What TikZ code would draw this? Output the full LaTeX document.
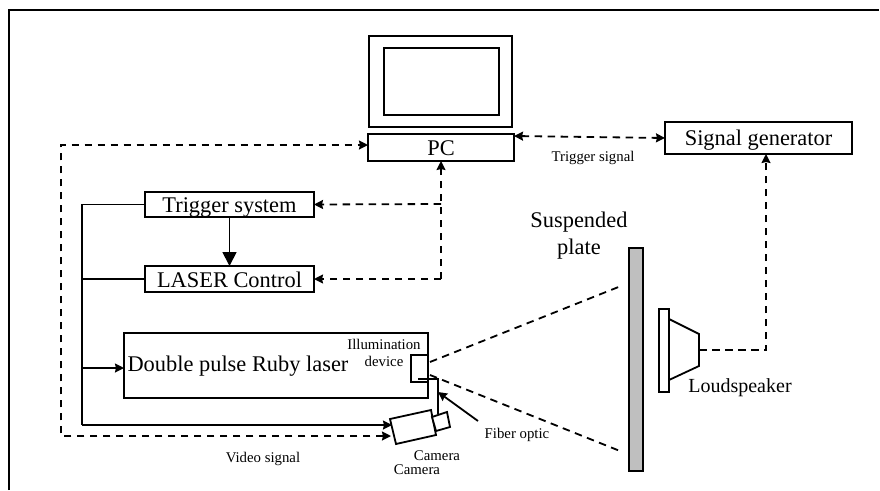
\documentclass[tikz,border=0pt]{standalone}
\usepackage{fontspec}
\setmainfont{Liberation Serif}
\usetikzlibrary{arrows.meta}
\tikzset{
	box/.style={draw, line width=1.8pt, inner sep=0pt, outer sep=0pt, fill=white},
	bigtext/.style={font=\fontsize{22.4}{27}\selectfont, inner sep=0pt, align=center},
	boxtext/.style={bigtext, text height=16.5pt, text depth=0pt},
	smalltext/.style={font=\fontsize{14.8}{17}\selectfont, inner sep=0pt, align=center},
	solidline/.style={line width=1.8pt},
	dashline/.style={line width=1.8pt, dash pattern=on 7.5pt off 5.5pt},
	smallhead/.style={-{Stealth[length=9pt,width=9pt,inset=1pt]}},
	bothhead/.style={{Stealth[length=9pt,width=9pt,inset=1pt]}-{Stealth[length=9pt,width=9pt,inset=1pt]}}
}
\begin{document}
\begin{tikzpicture}[x=1pt, y=-1pt, line join=miter]
	% Fix the page to the size of the picture
	\useasboundingbox (0,0) rectangle (880,490);

	% Define key coordinates
	\coordinate (FL) at (9,490);       % Bottom end of the frame
	\coordinate (FC) at (9,10);        % Corner of the frame
	\coordinate (FR) at (879,10);      % Right end of the frame
	\coordinate (BUS) at (82,425);     % Lower corner of the solid bus
	\coordinate (LI) at (124,368);     % Bus input of the laser
	\coordinate (VID) at (61,436);     % Lower corner of the video line
	\coordinate (VIDT) at (61,145);    % Upper corner of the video line
	\coordinate (PCV) at (368,145);    % Video input of the PC
	\coordinate (PCS) at (514,136);    % Signal output of the PC
	\coordinate (SGP) at (665,138);    % PC input of the generator
	\coordinate (SGS) at (766,154);    % Speaker input of the generator
	\coordinate (TJ) at (441,204);     % Junction towards the trigger system
	\coordinate (LJ) at (441,279);     % Junction towards the laser control
	\coordinate (SPK) at (766,350);    % Corner of the speaker line
	\coordinate (CS) at (392,425);     % Solid input of the camera
	\coordinate (CD) at (391,436);     % Dashed input of the camera
	\coordinate (FA) at (418,379);     % Fiber start in the illumination device
	\coordinate (FB) at (438,379);     % Fiber corner
	\coordinate (FC2) at (438,414);    % Fiber end on the camera
	\coordinate (FT) at (438,392);     % Tip of the fiber arrow
	\coordinate (BU) at (430,362);     % Upper beam start
	\coordinate (BD) at (430,375);     % Lower beam start
	\coordinate (PU) at (621,286);     % Upper beam end
	\coordinate (PD) at (620,451);     % Lower beam end

	% Draw the frame
	\draw[line width=2pt] (FL) -- (FC) -- (FR);

	% Draw the PC and its monitor
	\node[box, minimum width=143pt, minimum height=91pt] (monitor) at (440.5,81.5) {};
	\node[box, minimum width=115pt, minimum height=67pt] (screen) at (441.5,81.5) {};
	\node[box, boxtext, minimum width=146pt, minimum height=27pt] (pc) at (441,147.5) {PC};

	% Draw the other boxes
	\node[box, boxtext, text height=14pt, minimum width=187pt, minimum height=32pt] (siggen) at (758.5,138) {Signal generator};
	\node[box, boxtext, minimum width=169pt, minimum height=25pt] (trigger) at (229.5,204.5) {Trigger system};
	\node[box, boxtext, minimum width=169pt, minimum height=26pt] (laserctl) at (229.5,279) {LASER Control};
	\node[box, minimum width=304pt, minimum height=65pt] (laser) at (276,365.5) {};
	\node[box, minimum width=17pt, minimum height=27pt] (illum) at (419.5,368.5) {};

	% Draw the plate and the loudspeaker
	\node[box, fill=black!25, minimum width=14pt, minimum height=223pt] (plate) at (636,359.5) {};
	\node[box, minimum width=10pt, minimum height=83pt] (baffle) at (664,350.5) {};
	\draw[solidline] (669,319) -- (699,334) -- (699,366) -- (669,380);
	\coordinate (SO) at (699,350);

	% Draw the camera
	\draw[solidline, fill=white] (390,419) -- (431,410) -- (436,435) -- (396,444) -- cycle;
	\draw[solidline, fill=white] (432,417) -- (447,412) -- (450,427) -- (436,431) -- cycle;

	% Draw the solid connections
	\draw[solidline] (trigger.west) -| (BUS);
	\draw[solidline, smallhead] (BUS) -- (CS);
	\draw[solidline] (laserctl.west) -- (laserctl.west -| BUS);
	\draw[solidline, smallhead] (LI -| BUS) -- (LI);
	\draw[solidline, -{Triangle[length=14pt,width=14pt]}] (trigger.south) -- (laserctl.north);
	\draw[solidline] (FA) -- (FB) -- (FC2);

	% Draw the dashed connections
	\draw[dashline, bothhead] (CD) -- (VID) -- (VIDT) -- (PCV);
	\draw[dashline, bothhead] (PCS) -- (SGP);
	\draw[dashline, smallhead] (LJ) -- (pc.south);
	\draw[dashline, smallhead] (TJ) -- (trigger.east);
	\draw[dashline, smallhead] (LJ) -- (laserctl.east);
	\draw[dashline, smallhead] (SO) -- (SPK) -- (SGS);
	\draw[dashline] (BU) -- (PU);
	\draw[dashline] (BD) -- (PD);

	% Draw the arrow of the fiber label
	\node[smalltext] (fiber) at (517,435) {Fiber optic};
	\draw[solidline, smallhead] (478,421) -- (FT);

	% Place the labels
	\node[bigtext] (lasertext) at (238,366) {Double pulse Ruby laser};
	\node[smalltext] (illumtext) at (384,352.5) {Illumination\\device};
	\node[smalltext] (trigsig) at (593,158) {Trigger signal};
	\node[smalltext] (video) at (263,459) {Video signal};
	\node[smalltext] (cam) at (437,456) {Camera};
	\node[smalltext] (camb) at (417,470) {Camera};
	\node[bigtext] (plateText) at (579,235.5) {Suspended\\plate};
	\node[font=\fontsize{20}{24}\selectfont, inner sep=0pt] (speaker) at (740,388) {Loudspeaker};
\end{tikzpicture}
\end{document}
